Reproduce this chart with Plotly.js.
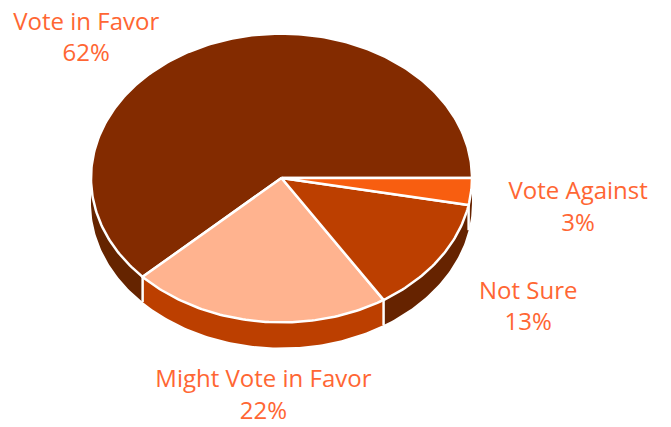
<!DOCTYPE html>
<html>
<head>
<meta charset="utf-8">
<script src="https://cdn.plot.ly/plotly-3.0.1.min.js"></script>
<style>html,body{margin:0;padding:0;background:#fff}#chart{width:671px;height:427px}</style>
</head>
<body>
<div id="chart"></div>
<script>
// Slices run counter-clockwise from the east side of the disc.
const categories = ['Vote in Favor', 'Might Vote in Favor', 'Not Sure', 'Vote Against'];
const values = [62, 22, 13, 3];
const topColors = ['#832b00', '#ffb38f', '#bc3f00', '#f85e10'];
const wallColors = ['#652400', '#bc3f00', '#662300', '#662300'];
const labelX = [-1.025, -0.095, 1.295, 1.557];
const labelY = [0.725, -1.15, -0.685, -0.163];

// Disc proportions, in radius units.
const TILT = 0.758;
const DEPTH = 0.132;
const PX_PER_UNIT = 190.5;
const STEP = 1;

const rad = d => d * Math.PI / 180;
const rim = (deg, drop) => [Math.cos(rad(deg)), Math.sin(rad(deg)) * TILT - drop];

function arc(from, to, drop) {
  const pts = [];
  const sign = to >= from ? 1 : -1;
  for (let a = from; sign * (a - to) < 0; a += sign * STEP) pts.push(rim(a, drop));
  pts.push(rim(to, drop));
  return pts;
}

function polygon(pts, fill, line) {
  return {
    type: 'scatter', mode: 'lines', fill: 'toself', fillcolor: fill,
    x: pts.map(p => p[0]), y: pts.map(p => p[1]),
    line: line, hoverinfo: 'skip', showlegend: false
  };
}

const total = values.reduce((a, b) => a + b, 0);
let cursor = 0;
const spans = values.map(v => {
  const s = [cursor, cursor + v / total * 360];
  cursor = s[1];
  return s;
});

const traces = [];

// Side wall: only the front half of the disc is visible.
spans.forEach((s, i) => {
  const from = Math.max(s[0], 180), to = s[1];
  if (to <= from) return;
  const pts = arc(from, to, 0).concat(arc(to, from, DEPTH));
  traces.push(polygon(pts, wallColors[i], {width: 0, color: wallColors[i]}));
});

// Separators on the wall at each front slice boundary.
spans.forEach(s => {
  const a = s[1];
  if (a <= 180 || a >= 360) return;
  const top = rim(a, 0), bottom = rim(a, DEPTH);
  traces.push({
    type: 'scatter', mode: 'lines', x: [top[0], bottom[0]], y: [top[1], bottom[1]],
    line: {color: '#ffffff', width: 2.5}, hoverinfo: 'skip', showlegend: false
  });
});

// Top face of the disc.
spans.forEach((s, i) => {
  const pts = [[0, 0]].concat(arc(s[0], s[1], 0), [[0, 0]]);
  traces.push(polygon(pts, topColors[i], {color: '#ffffff', width: 2.5}));
});

// Category and percentage labels.
traces.push({
  type: 'scatter', mode: 'text',
  x: labelX, y: labelY,
  text: categories.map((c, i) => c + '<br>' + values[i] + '%'),
  textposition: 'middle center',
  textfont: {family: '"Open Sans", sans-serif', size: 24, color: '#ff6633'},
  hoverinfo: 'skip', showlegend: false, cliponaxis: false
});

const layout = {
  width: 671, height: 427,
  margin: {l: 0, r: 0, t: 0, b: 0},
  paper_bgcolor: '#ffffff', plot_bgcolor: '#ffffff',
  showlegend: false,
  xaxis: {range: [-281.5 / PX_PER_UNIT, 389.5 / PX_PER_UNIT], visible: false, fixedrange: true},
  yaxis: {range: [-249 / PX_PER_UNIT, 178 / PX_PER_UNIT], visible: false, fixedrange: true}
};

Plotly.newPlot('chart', traces, layout, {displayModeBar: false, staticPlot: true});
</script>
</body>
</html>
